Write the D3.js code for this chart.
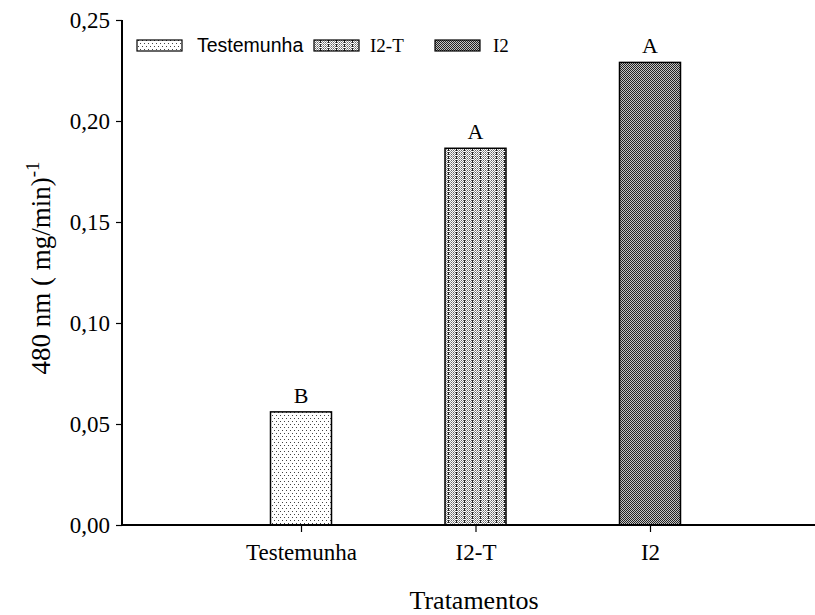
<!DOCTYPE html>
<html>
<head>
<meta charset="utf-8">
<script src="https://cdn.jsdelivr.net/npm/d3@7"></script>
<style>
  body { margin: 0; background: #fff; }
  svg { display: block; }
</style>
</head>
<body>
<svg id="chart" width="815" height="615"></svg>
<script>
// Treatment categories, measured values and significance letters
const categories = ["Testemunha", "I2-T", "I2"];
const values = [0.056, 0.1865, 0.229];
const letters = ["B", "A", "A"];
const yTickValues = [0, 0.05, 0.10, 0.15, 0.20, 0.25];
const legendLabels = ["Testemunha", "I2-T", "I2"];

const svg = d3.select("#chart");
const serif = "'Liberation Serif','Times New Roman',serif";
const sans = "'Liberation Sans',Arial,sans-serif";

const plotLeft = 122, plotRight = 815, plotTop = 20, plotBottom = 525;
const barWidth = 61;

// Category index (1..3) -> bar centre
const x = d3.scaleLinear().domain([1, 3]).range([301, 650]);
const y = d3.scaleLinear().domain([0, 0.25]).range([plotBottom, plotTop]);

// ---- fill patterns -------------------------------------------------------
const defs = svg.append("defs");

// light stipple
const p1 = defs.append("pattern").attr("id", "fill0")
  .attr("patternUnits", "userSpaceOnUse").attr("width", 4).attr("height", 6);
p1.append("rect").attr("width", 4).attr("height", 6).attr("fill", "#fff");
p1.append("rect").attr("x", 0).attr("y", 1).attr("width", 1).attr("height", 1).attr("fill", "#444");
p1.append("rect").attr("x", 2).attr("y", 4).attr("width", 1).attr("height", 1).attr("fill", "#444");

// medium dots with vertical dashed stripes
const p2 = defs.append("pattern").attr("id", "fill1")
  .attr("patternUnits", "userSpaceOnUse").attr("width", 8).attr("height", 4);
p2.append("rect").attr("width", 8).attr("height", 4).attr("fill", "#fff");
[[1,0],[3,0],[5,0],[7,0],[1,2],[3,2],[5,2],[7,2]].forEach(([dx, dy]) =>
  p2.append("rect").attr("x", dx).attr("y", dy).attr("width", 1).attr("height", 1).attr("fill", "#666"));
[[2,1],[4,1],[6,1],[2,3],[4,3],[6,3]].forEach(([dx, dy]) =>
  p2.append("rect").attr("x", dx).attr("y", dy).attr("width", 1).attr("height", 1).attr("fill", "#999"));
p2.append("rect").attr("x", 0).attr("y", 0).attr("width", 1).attr("height", 3).attr("fill", "#222");

// dark checkerboard with faint light banding
const p3 = defs.append("pattern").attr("id", "fill2")
  .attr("patternUnits", "userSpaceOnUse").attr("width", 2).attr("height", 2);
p3.append("rect").attr("width", 2).attr("height", 2).attr("fill", "#c4c4c4");
p3.append("rect").attr("x", 0).attr("y", 0).attr("width", 1).attr("height", 1).attr("fill", "#222");
p3.append("rect").attr("x", 1).attr("y", 1).attr("width", 1).attr("height", 1).attr("fill", "#222");

// ---- bars ------------------------------------------------------------------
const data = categories.map((c, i) => ({ c, i: i + 1, v: values[i], l: letters[i] }));

svg.append("g").selectAll("rect").data(data).join("rect")
  .attr("x", d => x(d.i) - barWidth / 2)
  .attr("y", d => y(d.v))
  .attr("width", barWidth)
  .attr("height", d => y(0) - y(d.v))
  .attr("fill", (d, k) => `url(#fill${k})`)
  .attr("stroke", "#000")
  .attr("stroke-width", 1.5);

svg.append("g").selectAll("text").data(data).join("text")
  .attr("x", d => x(d.i))
  .attr("y", d => y(d.v) - 9)
  .attr("text-anchor", "middle")
  .attr("font-family", serif)
  .attr("font-size", 22)
  .text(d => d.l);

// ---- axes --------------------------------------------------------------------
const yAxis = svg.append("g")
  .attr("transform", `translate(${plotLeft},0)`)
  .call(d3.axisLeft(y).tickValues(yTickValues).tickSize(6).tickPadding(6)
    .tickFormat(d => d3.format(".2f")(d).replace(".", ",")));
yAxis.select(".domain").remove();
yAxis.selectAll(".tick line").attr("stroke", "#000").attr("stroke-width", 1.2);
yAxis.selectAll(".tick text").attr("font-family", serif).attr("font-size", 23).attr("fill", "#000");
svg.append("line").attr("x1", plotLeft).attr("x2", plotLeft)
  .attr("y1", plotTop).attr("y2", plotBottom)
  .attr("stroke", "#000").attr("stroke-width", 2);

const xAxis = svg.append("g")
  .attr("transform", `translate(0,${plotBottom})`)
  .call(d3.axisBottom(x).tickValues([1, 2, 3]).tickSize(7).tickPadding(12)
    .tickFormat(d => categories[d - 1]));
xAxis.select(".domain").remove();
xAxis.selectAll(".tick line").attr("stroke", "#000").attr("stroke-width", 1.2);
xAxis.selectAll(".tick text").attr("font-family", serif).attr("font-size", 23).attr("fill", "#000");
svg.append("line").attr("x1", plotLeft - 1).attr("x2", plotRight)
  .attr("y1", plotBottom).attr("y2", plotBottom)
  .attr("stroke", "#000").attr("stroke-width", 2);

// ---- axis titles -------------------------------------------------------------
svg.append("text")
  .attr("x", 474)
  .attr("y", 609)
  .attr("text-anchor", "middle")
  .attr("font-family", serif)
  .attr("font-size", 26)
  .text("Tratamentos");

const yTitle = svg.append("text")
  .attr("transform", "translate(50,268) rotate(-90)")
  .attr("text-anchor", "middle")
  .attr("font-family", serif)
  .attr("font-size", 27);
yTitle.append("tspan").text("480 nm ( mg/min)");
yTitle.append("tspan").attr("dy", -11).attr("font-size", 19).text("-1");

// ---- legend ------------------------------------------------------------------
const legendItems = [
  { box: 137, text: 197, font: sans, size: 19.5 },
  { box: 314, text: 370, font: serif, size: 19 },
  { box: 435, text: 493, font: serif, size: 19 }
];
const legend = svg.append("g");
legendItems.forEach((it, k) => {
  legend.append("rect")
    .attr("x", it.box).attr("y", 40).attr("width", 45).attr("height", 11)
    .attr("fill", `url(#fill${k})`).attr("stroke", "#000").attr("stroke-width", 1.2);
  legend.append("text")
    .attr("x", it.text).attr("y", 52)
    .attr("font-family", it.font).attr("font-size", it.size)
    .text(legendLabels[k]);
});
</script>
</body>
</html>
